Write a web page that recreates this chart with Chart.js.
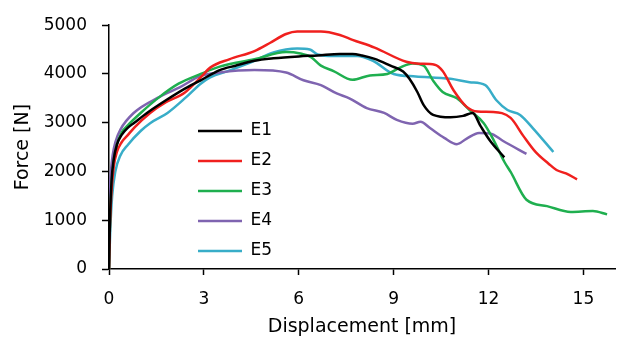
<!DOCTYPE html>
<html><head><meta charset="utf-8">
<script src="https://cdn.jsdelivr.net/npm/chart.js@4/dist/chart.umd.min.js"></script>
<style>html,body{margin:0;padding:0;background:#fff;}#wrap{width:619px;height:338px;}</style>
</head><body><div id="wrap"><canvas id="c" width="619" height="338"></canvas></div>
<script>
const seriesNames = ['E1', 'E2', 'E3', 'E4', 'E5'];
const xTicks = [0, 3, 6, 9, 12, 15];
const yTicks = [0, 1000, 2000, 3000, 4000, 5000];

const e1x = [0, 0.03, 0.08, 0.15, 0.25, 0.4, 0.6, 0.8, 1.2, 1.8, 2.4, 2.9, 3.5, 4.0, 4.6, 5.2, 6.0, 6.6, 7.3, 7.7, 8.0, 8.4, 8.9, 9.3, 9.5, 9.75, 9.95, 10.25, 10.8, 11.2, 11.5, 11.75, 12.05, 12.5];
const e1y = [0, 1000, 1800, 2250, 2550, 2750, 2900, 3000, 3200, 3460, 3700, 3870, 4080, 4170, 4270, 4320, 4360, 4380, 4410, 4410, 4380, 4310, 4170, 4050, 3900, 3630, 3360, 3160, 3110, 3140, 3200, 2930, 2630, 2290];

const e2x = [0, 0.03, 0.08, 0.15, 0.25, 0.4, 0.6, 0.8, 1.3, 1.8, 2.4, 2.9, 3.2, 3.8, 4.6, 5.1, 5.6, 5.95, 6.7, 7.3, 7.7, 8.4, 9.4, 9.8, 10.3, 10.55, 10.9, 11.3, 11.65, 12.15, 12.7, 13.1, 13.5, 13.9, 14.15, 14.45, 14.8];
const e2y = [0, 900, 1600, 2100, 2400, 2600, 2750, 2900, 3200, 3420, 3620, 3930, 4130, 4300, 4470, 4640, 4820, 4870, 4870, 4800, 4700, 4540, 4250, 4210, 4190, 4060, 3660, 3330, 3230, 3220, 3100, 2730, 2390, 2160, 2030, 1960, 1840];

const e3x = [0, 0.03, 0.08, 0.15, 0.25, 0.4, 0.6, 1.0, 1.6, 2.2, 2.9, 3.5, 4.6, 5.6, 6.05, 6.4, 6.7, 7.1, 7.7, 8.25, 8.8, 9.2, 9.6, 9.95, 10.25, 10.55, 11.0, 11.4, 11.85, 12.15, 12.5, 12.7, 13.2, 13.85, 14.6, 15.3, 15.75];
const e3y = [0, 900, 1700, 2200, 2550, 2800, 2950, 3200, 3530, 3800, 4000, 4150, 4300, 4450, 4420, 4340, 4170, 4060, 3880, 3970, 4000, 4130, 4215, 4170, 3860, 3630, 3500, 3260, 2990, 2660, 2200, 1990, 1420, 1290, 1170, 1190, 1120];

const e4x = [0, 0.02, 0.06, 0.12, 0.2, 0.36, 0.78, 1.6, 2.25, 2.9, 3.5, 4.6, 5.6, 6.15, 6.7, 7.2, 7.6, 8.15, 8.7, 9.1, 9.6, 9.85, 10.15, 10.6, 11.0, 11.3, 11.7, 12.05, 12.45, 13.2];
const e4y = [900, 1500, 2000, 2350, 2600, 2860, 3200, 3530, 3730, 3960, 4030, 4080, 4030, 3870, 3770, 3600, 3500, 3300, 3200, 3060, 2980, 3020, 2890, 2690, 2560, 2670, 2790, 2780, 2630, 2360];

const e5x = [0, 0.04, 0.1, 0.2, 0.36, 0.6, 1.0, 1.3, 1.85, 2.45, 2.9, 3.2, 3.8, 4.6, 5.2, 5.95, 6.35, 6.6, 7.1, 7.85, 8.35, 9.0, 9.7, 10.8, 11.4, 11.9, 12.25, 12.6, 13.0, 13.4, 14.05];
const e5y = [0, 800, 1500, 2000, 2330, 2550, 2830, 2990, 3200, 3530, 3800, 3930, 4070, 4270, 4440, 4520, 4500, 4400, 4370, 4370, 4270, 4000, 3950, 3900, 3830, 3770, 3460, 3260, 3160, 2890, 2400];

const seriesX = [e1x, e2x, e3x, e4x, e5x];
const seriesY = [e1y, e2y, e3y, e4y, e5y];
const seriesColors = ['#000000', '#F0201E', '#1FAF4F', '#7F64B0', '#38ADC8'];

const FONT = 'DejaVu Sans';

const datasets = seriesNames.map((name, i) => ({
  label: name,
  data: seriesX[i].map((x, j) => ({x: x, y: seriesY[i][j]})),
  borderColor: seriesColors[i],
  backgroundColor: seriesColors[i],
  borderWidth: 2.5,
  pointRadius: 0,
  showLine: true,
  fill: false,
  cubicInterpolationMode: 'monotone'
}));

const legendPlacer = {
  id: 'legendPlacer',
  afterLayout(chart) {
    const lg = chart.legend;
    if (!lg) return;
    const w = lg.width;
    lg.left = 185; lg.right = lg.left + w;
    lg.top = 109.5; lg.height = 300; lg.bottom = lg.top + 300;
  }
};

new Chart(document.getElementById('c'), {
  type: 'scatter',
  data: { datasets },
  plugins: [legendPlacer],
  options: {
    responsive: false,
    animation: false,
    devicePixelRatio: 1,
    layout: { padding: { left: 0, right: 4, top: 20, bottom: 0 } },
    plugins: {
      tooltip: { enabled: false },
      legend: {
        position: 'chartArea',
        align: 'start',
        labels: {
          usePointStyle: true,
          pointStyle: 'line',
          pointStyleWidth: 44,
          padding: 13,
          color: '#000',
          font: { family: FONT, size: 17 }
        }
      }
    },
    scales: {
      x: {
        type: 'linear',
        min: 0, max: 16,
        afterFit(scale) { scale.height = 69; },
        afterBuildTicks(scale) { scale.ticks = xTicks.map(v => ({value: v})); },
        ticks: { stepSize: 3, includeBounds: false, padding: 14, color: '#000', font: { family: FONT, size: 17 }, callback: v => String(v) },
        grid: { display: true, drawOnChartArea: false, drawTicks: true, tickLength: 6, tickColor: '#000', tickWidth: 1.5 },
        border: { display: true, color: '#000', width: 1.5 },
        title: { display: true, text: 'Displacement [mm]', color: '#000', font: { family: FONT, size: 19 }, padding: { top: 0, bottom: 0 } }
      },
      y: {
        type: 'linear',
        min: 0, max: 5000,
        afterFit(scale) { scale.width = 109; },
        afterBuildTicks(scale) { scale.ticks = yTicks.map(v => ({value: v})); },
        ticks: { stepSize: 1000, padding: 15, color: '#000', font: { family: FONT, size: 17 }, callback: v => String(v) },
        grid: { display: true, drawOnChartArea: false, drawTicks: true, tickLength: 7, tickColor: '#000', tickWidth: 1.5 },
        border: { display: true, color: '#000', width: 1.5 },
        title: { display: true, text: 'Force [N]', color: '#000', font: { family: FONT, size: 19 }, padding: { top: 12, bottom: 0 } }
      }
    }
  }
});
</script>
</body></html>
